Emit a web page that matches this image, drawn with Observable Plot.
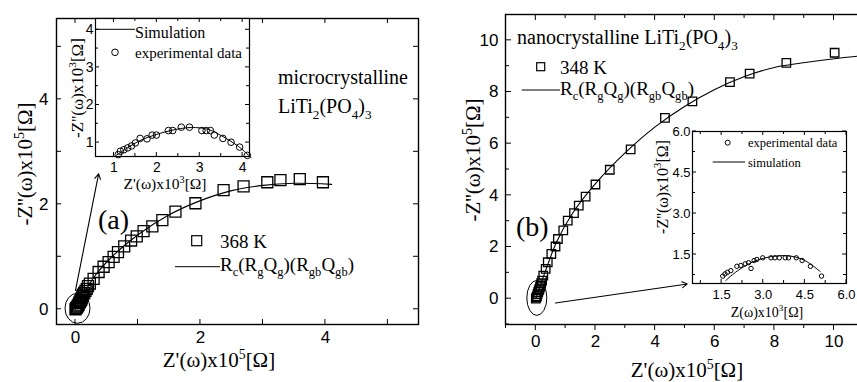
<!DOCTYPE html>
<html><head><meta charset="utf-8">
<script src="https://cdn.jsdelivr.net/npm/d3@7"></script>
<script src="https://cdn.jsdelivr.net/npm/@observablehq/plot@0.6"></script>
<style>
html,body{margin:0;padding:0;background:#fff;overflow:hidden}
#wrap{position:relative;width:857px;height:382px;overflow:hidden;background:#fff}
#wrap svg{position:absolute}
</style></head><body><div id="wrap"></div>
<script>
// ---------- DATA ----------
// Panel (a): microcrystalline, 368 K  (x, y in 10^5 Ω)
const aSqX = [0,0.01,0.02,0.03,0.04,0.05,0.06,0.07,0.08,0.09,0.10,0.11,0.12,0.14,0.16,0.18,0.20,0.23,0.29,0.37,0.45,0.53,0.61,0.68,0.78,0.89,0.98,1.09,1.23,1.39,1.60,1.92,2.37,2.69,3.07,3.28,3.59,3.96];
const aSqY = [0,0.02,0.03,0.05,0.07,0.09,0.12,0.14,0.16,0.18,0.21,0.25,0.28,0.31,0.35,0.39,0.44,0.49,0.58,0.71,0.81,0.90,1.00,1.09,1.20,1.31,1.39,1.49,1.58,1.70,1.86,2.02,2.27,2.34,2.42,2.46,2.48,2.42];
const aFitX = [0,0.1,0.3,0.6,1.0,1.5,2.0,2.5,3.0,3.5,4.1];
const aFitY = [0,0.22,0.62,1.02,1.42,1.8,2.07,2.26,2.36,2.4,2.38];
// Inset (a) (x, y in 10^3 Ω)
const aInX = [1.10,1.15,1.23,1.32,1.41,1.50,1.61,1.77,1.89,1.99,2.27,2.37,2.57,2.76,3.05,3.15,3.25,3.34,3.54,3.73,3.93,4.11];
const aInY = [0.68,0.77,0.81,0.86,0.91,0.99,1.11,1.10,1.20,1.20,1.32,1.32,1.41,1.41,1.32,1.32,1.32,1.20,1.11,1.01,0.88,0.66];
const aInFitX = [1.05,1.3,1.6,2.0,2.4,2.8,3.2,3.6,3.9,4.2];
const aInFitY = [0.66,0.85,1.05,1.22,1.34,1.40,1.35,1.12,0.90,0.60];
// Panel (b): nanocrystalline, 348 K
const bSqX = [0,0.02,0.04,0.06,0.08,0.10,0.12,0.14,0.16,0.18,0.21,0.25,0.33,0.40,0.52,0.66,0.74,0.92,1.07,1.28,1.44,1.67,2.00,2.48,3.18,4.33,5.25,6.51,7.17,8.40,10.02];
const bSqY = [0,0.05,0.10,0.18,0.25,0.32,0.37,0.45,0.50,0.60,0.70,0.89,1.15,1.41,1.73,2.02,2.31,2.64,3.02,3.31,3.60,3.95,4.42,4.99,5.78,7.00,7.64,8.38,8.71,9.13,9.52];
const bFitX = [0,0.3,0.7,1.2,2.0,3.0,4.0,5.0,6.0,7.0,8.0,8.9,10.0,10.9];
const bFitY = [0,1.0,2.2,3.25,4.45,5.65,6.65,7.45,8.1,8.6,8.95,9.12,9.29,9.4];
// Inset (b)
const bInX = [1.54,1.62,1.71,1.83,2.05,2.19,2.35,2.47,2.56,2.67,2.77,2.98,3.28,3.42,3.58,3.79,3.91,4.19,4.40,4.70,5.10];
const bInY = [0.71,0.79,0.85,0.91,1.07,1.10,1.16,1.20,0.99,1.28,1.32,1.38,1.38,1.38,1.38,1.38,1.38,1.38,1.28,1.07,0.71];
const bInFitX = [1.65,2.0,2.5,3.0,3.5,4.0,4.5,5.05];
const bInFitY = [0.55,0.85,1.17,1.36,1.45,1.44,1.28,0.88];

// Tick values
const aXTicks = [0,2,4], aYTicks = [0,2,4];
const aInXTicks = [1,2,3,4], aInYTicks = [1,2,3,4];
const bXTicks = [0,2,4,6,8,10], bYTicks = [0,2,4,6,8,10];
const bInXTicks = [1.5,3.0,4.5,6.0], bInYTicks = [1.5,3.0,4.5,6.0];

// Texts
const aXLabel = "Z'(ω)x10^{5}[Ω]", aYLabel = "-Z''(ω)x10^{5}[Ω]";
const aInXLabel = "Z'(ω)x10^{3}[Ω]", aInYLabel = "-Z''(ω)x10^{3}[Ω]";
const bXLabel = "Z'(ω)x10^{5}[Ω]", bYLabel = "-Z''(ω)x10^{5}[Ω]";
const bInXLabel = "Z(ω)x10^{3}[Ω]", bInYLabel = "-Z''(ω)x10^{3}[Ω]";
const aTitle = ["microcrystalline", "LiTi_{2}(PO_{4})_{3}"];
const bTitle = "nanocrystalline LiTi_{2}(PO_{4})_{3}";
const aTemp = "368 K", bTemp = "348 K";
const circuit = "R_{c}(R_{g}Q_{g})(R_{gb}Q_{gb})";
const aPanel = "(a)", bPanel = "(b)";
const aInLegend = ["Simulation", "experimental data"];
const bInLegend = ["experimental data", "simulation"];
// Zoom arrows (data units of main panels)
const aArrow = [{x1: 0.0, y1: 0.36, x2: 0.37, y2: 2.58}];
const bArrow = [{x1: 0.66, y1: -0.17, x2: 5.08, y2: 0.57}];

// ---------- HELPERS ----------
const SERIF = "'Liberation Serif','Times New Roman',serif";
const SANS = "'Liberation Sans',Arial,sans-serif";
const NS = "http://www.w3.org/2000/svg";
const pts = (xs, ys) => xs.map((x, i) => ({x, y: ys[i]}));
function el(tag, attrs = {}) { const e = document.createElementNS(NS, tag); for (const k in attrs) e.setAttribute(k, attrs[k]); return e; }
function parseRich(s) {
  const parts = []; const re = /([\^_])\{([^}]*)\}/g; let last = 0, m;
  while ((m = re.exec(s))) { if (m.index > last) parts.push([s.slice(last, m.index), null]); parts.push([m[2], m[1] === "^" ? "sup" : "sub"]); last = re.lastIndex; }
  if (last < s.length) parts.push([s.slice(last), null]);
  return parts;
}
function rich(str, px, py, {size = 20, family = SERIF, anchor = "start", rotate = 0} = {}) {
  return () => {
    const g = el("g", {transform: `translate(${px},${py}) rotate(${rotate})`});
    const t = el("text", {x: 0, y: 0.35 * size, "font-size": size, "font-family": family, "text-anchor": anchor, fill: "black"});
    let shift = 0;
    for (const [s, kind] of parseRich(str)) {
      const target = kind === "sup" ? -0.42 * size : kind === "sub" ? 0.3 * size : 0;
      const ts = el("tspan", {dy: target - shift});
      if (kind) ts.setAttribute("font-size", 0.66 * size);
      ts.textContent = s; t.append(ts); shift = target;
    }
    g.append(t); return g;
  };
}
function frameTicks({x = [], y = [], sides, len = 5, minorLen = len, major = () => true}) {
  return (index, scales, values, dims) => {
    const g = el("g", {stroke: "black", "stroke-width": 1, fill: "none"});
    const L = dims.marginLeft, R = dims.width - dims.marginRight, T = dims.marginTop, B = dims.height - dims.marginBottom;
    for (const [side, dir] of Object.entries(sides)) {
      const horiz = side === "bottom" || side === "top";
      for (const v of (horiz ? x : y)) {
        const l = major(v) ? len : minorLen;
        let d;
        if (side === "bottom") d = `M${scales.x(v)},${B}v${dir === "in" ? -l : l}`;
        if (side === "top") d = `M${scales.x(v)},${T}v${dir === "in" ? l : -l}`;
        if (side === "left") d = `M${L},${scales.y(v)}h${dir === "in" ? l : -l}`;
        if (side === "right") d = `M${R},${scales.y(v)}h${dir === "in" ? -l : l}`;
        g.append(el("path", {d}));
      }
    }
    return g;
  };
}
function ellipse(cx, cy, rx, ry) {
  return (index, scales) => el("ellipse", {cx: scales.x(cx), cy: scales.y(cy), rx, ry, fill: "none", stroke: "black", "stroke-width": 1});
}
function swatchSquare(cx, cy, side) {
  return () => el("rect", {x: cx - side / 2, y: cy - side / 2, width: side, height: side, fill: "none", stroke: "black", "stroke-width": 1.2});
}
function swatchCircle(cx, cy, r) {
  return () => el("circle", {cx, cy, r, fill: "none", stroke: "black", "stroke-width": 1});
}
function swatchLine(x1, x2, y) {
  return () => el("path", {d: `M${x1},${y}H${x2}`, stroke: "black", "stroke-width": 1, fill: "none"});
}
const range = (a, b, s) => d3.range(a, b + s / 2, s);
const wrap = document.getElementById("wrap");
function place(svg, left, top) { svg.style.left = left + "px"; svg.style.top = top + "px"; wrap.append(svg); }

// ---------- PANEL (a) ----------
const plotA = Plot.plot({
  width: 430, height: 382, marginLeft: 56, marginRight: 12, marginTop: 18, marginBottom: 58,
  x: {domain: [-0.304, 5.49]}, y: {domain: [-0.29, 5.54]},
  style: {background: "white", fontFamily: SANS, overflow: "visible"},
  marks: [
    Plot.frame({stroke: "black", strokeWidth: 1.4}),
    Plot.axisX({ticks: aXTicks, tickSize: 0, tickPadding: 6, fontSize: 17, label: null, tickFormat: d => String(d)}),
    Plot.axisY({ticks: aYTicks, tickSize: 0, tickPadding: 8, fontSize: 17, label: null, tickFormat: d => String(d)}),
    frameTicks({x: range(0, 5, 1), y: range(0, 5, 1), sides: {bottom: "in", top: "in", left: "in", right: "in"}, len: 5}),
    Plot.line(pts(aFitX, aFitY), {x: "x", y: "y", stroke: "black", strokeWidth: 1.1, curve: "catmull-rom"}),
    Plot.dot(pts(aSqX, aSqY), {x: "x", y: "y", symbol: "square", r: 6.2, stroke: "black", strokeWidth: 1.3, fill: "none"}),
    ellipse(0.04, 0.01, 12.5, 15),
    Plot.arrow(aArrow, {x1: "x1", y1: "y1", x2: "x2", y2: "y2", stroke: "black", strokeWidth: 1.1, headLength: 8}),
    rich(aTitle[0], 278, 77),
    rich(aTitle[1], 278, 106),
    rich(aPanel, 98, 219, {size: 28}),
    swatchSquare(196.7, 240.7, 10),
    rich(aTemp, 220, 241, {size: 19}),
    swatchLine(175, 220, 266.7),
    rich(circuit, 220, 264, {size: 19}),
    rich(aXLabel, 219, 360, {size: 21, anchor: "middle"}),
    rich(aYLabel, 25, 164, {size: 21, anchor: "middle", rotate: -90})
  ]
});
place(plotA, 0, 0);

// Inset (a)
const insetA = Plot.plot({
  width: 200, height: 185, marginLeft: 35, marginRight: 11, marginTop: 8, marginBottom: 39,
  x: {domain: [0.57, 4.16]}, y: {domain: [0.63, 4.3]},
  style: {background: "transparent", fontFamily: SANS, overflow: "visible"},
  marks: [
    Plot.frame({stroke: "black", strokeWidth: 1.2, fill: "white"}),
    Plot.axisX({ticks: aInXTicks, tickSize: 0, tickPadding: 6, fontSize: 14, label: null, tickFormat: d => String(d)}),
    Plot.axisY({ticks: aInYTicks, tickSize: 0, tickPadding: 2, fontSize: 14, label: null, tickFormat: d => String(d)}),
    frameTicks({x: range(1, 4, 0.5), y: range(1, 4, 0.5), sides: {bottom: "in", top: "in", left: "in", right: "in"}, len: 4, minorLen: 3, major: v => Number.isInteger(v)}),
    Plot.line(pts(aInFitX, aInFitY), {x: "x", y: "y", stroke: "black", strokeWidth: 1, curve: "catmull-rom"}),
    Plot.dot(pts(aInX, aInY), {x: "x", y: "y", r: 3.3, stroke: "black", strokeWidth: 1, fill: "none"}),
    swatchLine(35, 75, 19.3),
    rich(aInLegend[0], 75, 22, {size: 16}),
    swatchCircle(55, 42.3, 3.3),
    rich(aInLegend[1], 75, 42.3, {size: 15}),
    rich(aInXLabel, 105, 174, {size: 15.5, anchor: "middle"}),
    rich(aInYLabel, 17, 78, {size: 17, anchor: "middle", rotate: -90})
  ]
});
place(insetA, 60, 10);

// ---------- PANEL (b) ----------
const plotB = Plot.plot({
  width: 440, height: 382, marginLeft: 75, marginRight: 12, marginTop: 14, marginBottom: 58,
  x: {domain: [-1.017, 10.82]}, y: {domain: [-1.0, 11.0]},
  style: {background: "white", fontFamily: SANS, overflow: "visible"},
  marks: [
    Plot.frame({stroke: "black", strokeWidth: 1.4}),
    Plot.axisX({ticks: bXTicks, tickSize: 0, tickPadding: 10, fontSize: 17, label: null, tickFormat: d => String(d)}),
    Plot.axisY({ticks: bYTicks, tickSize: 0, tickPadding: 7, fontSize: 17, label: null, tickFormat: d => String(d)}),
    frameTicks({x: range(-1, 10, 1), y: range(-1, 10, 1), sides: {bottom: "out", top: "in", left: "in"}, len: 6, minorLen: 4, major: v => v % 2 === 0}),
    Plot.line(pts(bFitX, bFitY), {x: "x", y: "y", stroke: "black", strokeWidth: 1.1, curve: "catmull-rom"}),
    Plot.dot(pts(bSqX, bSqY), {x: "x", y: "y", symbol: "square", r: 4.8, stroke: "black", strokeWidth: 1.3, fill: "none"}),
    ellipse(0.05, 0.01, 10, 17.5),
    Plot.arrow(bArrow, {x1: "x1", y1: "y1", x2: "x2", y2: "y2", stroke: "black", strokeWidth: 1.1, headLength: 8}),
    rich(bTitle, 87, 37),
    swatchSquare(110.7, 66.7, 8),
    rich(bTemp, 130, 67, {size: 19}),
    swatchLine(91.7, 130, 90),
    rich(circuit, 130, 88, {size: 19}),
    rich(bPanel, 86, 226, {size: 28}),
    rich(bXLabel, 257, 370, {size: 21, anchor: "middle"}),
    rich(bYLabel, 43, 160, {size: 21, anchor: "middle", rotate: -90})
  ]
});
place(plotB, 430, 0);

// Inset (b)
const insetB = Plot.plot({
  width: 207, height: 200, marginLeft: 42, marginRight: 11, marginTop: 6, marginBottom: 42,
  x: {domain: [0.45, 6.0]}, y: {domain: [0.44, 6.0]},
  style: {background: "transparent", fontFamily: SANS, overflow: "visible"},
  marks: [
    Plot.frame({stroke: "black", strokeWidth: 1.2, fill: "white"}),
    Plot.axisX({ticks: bInXTicks, tickSize: 0, tickPadding: 6, fontSize: 13, label: null, tickFormat: d3.format(".1f")}),
    Plot.axisY({ticks: bInYTicks, tickSize: 0, tickPadding: 2, fontSize: 13, label: null, tickFormat: d3.format(".1f")}),
    frameTicks({x: range(0.75, 6, 0.75), y: range(0.75, 6, 0.75), sides: {bottom: "in", top: "in", left: "in", right: "in"}, len: 4, minorLen: 3, major: v => Math.abs(v / 1.5 - Math.round(v / 1.5)) < 1e-6}),
    Plot.line(pts(bInFitX, bInFitY), {x: "x", y: "y", stroke: "black", strokeWidth: 1, curve: "catmull-rom"}),
    Plot.dot(pts(bInX, bInY), {x: "x", y: "y", r: 2.2, stroke: "black", strokeWidth: 1, fill: "none"}),
    swatchCircle(77.7, 17.7, 2.5),
    rich(bInLegend[0], 98, 18, {size: 12.5}),
    swatchLine(62.7, 95, 37),
    rich(bInLegend[1], 98, 37.7, {size: 12.5}),
    rich(bInXLabel, 117, 187, {size: 14, anchor: "middle"}),
    rich(bInYLabel, 12, 62, {size: 16, anchor: "middle", rotate: -90})
  ]
});
place(insetB, 650, 125);
</script></body></html>
